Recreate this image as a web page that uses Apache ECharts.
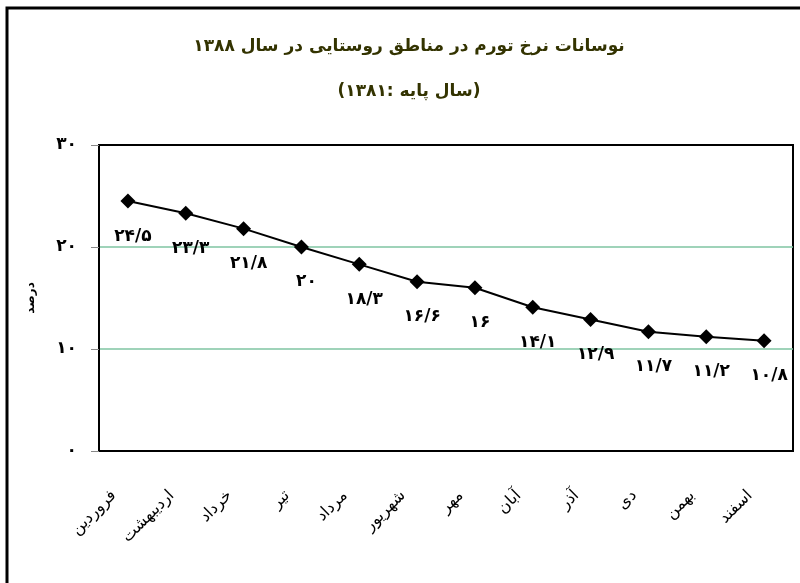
<!DOCTYPE html>
<html>
<head>
<meta charset="utf-8">
<script src="https://cdn.jsdelivr.net/npm/echarts@6/dist/echarts.min.js"></script>
<style>
  html, body { margin: 0; padding: 0; background: #fff; }
  #chart { width: 800px; height: 583px; }
</style>
</head>
<body>
<div id="chart" dir="rtl"></div>
<script>
// ماه‌های سال ۱۳۸۸
const months = ['فروردین', 'اردیبهشت', 'خرداد', 'تیر', 'مرداد', 'شهریور', 'مهر', 'آبان', 'آذر', 'دی', 'بهمن', 'اسفند'];
// نرخ تورم (درصد)
const inflation = [24.5, 23.3, 21.8, 20, 18.3, 16.6, 16, 14.1, 12.9, 11.7, 11.2, 10.8];
const yTicks = [0, 10, 20, 30];

const titleText = 'نوسانات نرخ تورم در مناطق روستایی در سال ۱۳۸۸';
const subtitleText = '(سال پایه :۱۳۸۱)';
const yName = 'درصد';

const FONT = '"DejaVu Sans", sans-serif';

// تبدیل عدد به ارقام فارسی
function toFa(n) {
  return String(n).replace('.', '/').replace(/\d/g, (d) => '۰۱۲۳۴۵۶۷۸۹'[d]);
}

const chart = echarts.init(document.getElementById('chart'));

const option = {
  animation: false,
  backgroundColor: '#fff',
  title: {
    text: titleText + '\n' + subtitleText,
    left: 409,
    textAlign: 'center',
    top: 24,
    padding: 0,
    textStyle: {
      fontFamily: FONT,
      fontSize: 17,
      fontWeight: 'bold',
      color: '#333300',
      lineHeight: 45,
    },
  },
  graphic: [
    {
      type: 'rect',
      shape: { x: 7, y: 8, width: 820, height: 600 },
      style: { fill: 'none', stroke: '#000', lineWidth: 3 },
      silent: true,
    },
  ],
  grid: {
    left: 99,
    right: 7,
    top: 145,
    bottom: 132,
    show: true,
    borderColor: '#000',
    borderWidth: 2,
  },
  xAxis: {
    type: 'category',
    data: months,
    axisLine: { lineStyle: { color: '#000', width: 2 } },
    axisTick: { length: 8, lineStyle: { color: '#888' } },
    axisLabel: {
      rotate: 45,
      margin: 28,
      padding: [0, 20, 0, 0],
      interval: 0,
      fontFamily: FONT,
      fontSize: 16,
      color: '#000',
    },
  },
  yAxis: {
    type: 'value',
    min: yTicks[0],
    max: yTicks[yTicks.length - 1],
    interval: 10,
    name: yName,
    nameLocation: 'middle',
    nameGap: 62,
    nameTextStyle: {
      fontFamily: FONT,
      fontSize: 12,
      fontWeight: 'bold',
      color: '#000',
    },
    axisLine: { show: true, lineStyle: { color: '#000', width: 2 } },
    axisTick: { show: true, length: 8, lineStyle: { color: '#888' } },
    axisLabel: {
      margin: 22,
      fontFamily: FONT,
      fontSize: 17,
      fontWeight: 'bold',
      color: '#000',
      formatter: (v) => toFa(v),
    },
    splitLine: {
      lineStyle: {
        color: ['transparent', '#7fc4a2', '#7fc4a2', 'transparent'],
        width: 1.5,
      },
    },
  },
  series: [
    {
      type: 'line',
      data: inflation,
      symbol: 'diamond',
      symbolSize: 15,
      itemStyle: { color: '#000' },
      lineStyle: { color: '#000', width: 2 },
      label: {
        show: true,
        position: 'bottom',
        distance: 19,
        offset: [5, 0],
        fontFamily: FONT,
        fontSize: 17,
        fontWeight: 'bold',
        color: '#000',
        formatter: (p) => toFa(p.value),
      },
    },
  ],
};

chart.setOption(option);
</script>
</body>
</html>
